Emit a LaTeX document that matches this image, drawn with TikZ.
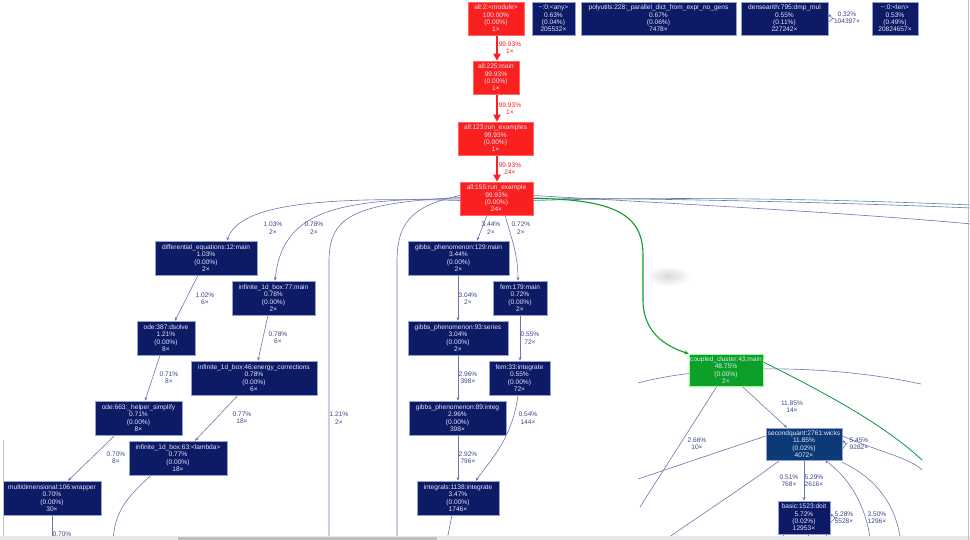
\documentclass[tikz,border=0pt]{standalone}
\usepackage{fontspec}
\setmainfont{Liberation Sans}
\usetikzlibrary{arrows.meta,fadings}
\definecolor{navyfill}{RGB}{13,27,102}
\definecolor{bluefill}{RGB}{12,58,118}
\definecolor{redfill}{RGB}{250,32,32}
\definecolor{greenfill}{RGB}{12,160,40}
\definecolor{boxline}{RGB}{150,160,210}
\definecolor{boxtext}{RGB}{228,230,248}
\definecolor{edgecol}{RGB}{110,118,175}
\definecolor{tealcol}{RGB}{80,140,165}
\definecolor{labcol}{RGB}{60,70,140}
\definecolor{scrolltrack}{RGB}{232,232,232}
\definecolor{scrollthumb}{RGB}{190,190,190}
\pgfdeclarelayer{bg}
\pgfdeclarelayer{paper}
\pgfsetlayers{paper,bg,main}
\tikzfading[name=softblob, inner color=transparent!0, outer color=transparent!100]
\tikzset{
  box/.style={rectangle, draw=boxline, line width=0.5pt, text=boxtext, align=center,
    inner sep=0pt, font=\fontsize{6.6}{7.4}\selectfont},
  navybox/.style={box, fill=navyfill},
  bluebox/.style={box, fill=bluefill},
  redbox/.style={box, fill=redfill, draw=red!60!white},
  greenbox/.style={box, fill=greenfill, draw=green!40!white},
  elab/.style={text=labcol, align=center, inner sep=0pt, font=\fontsize{6.6}{7.4}\selectfont},
  rlab/.style={elab, text=redfill},
  edge/.style={draw=edgecol, line width=0.6pt, -{Stealth[length=3.5pt,width=3pt]}},
  plain/.style={draw=edgecol, line width=0.6pt},
  tealline/.style={draw=tealcol, line width=0.6pt},
  redge/.style={draw=redfill, line width=2.6pt, -{Triangle[length=7pt,width=7pt]}},
  gedge/.style={draw=greenfill, line width=1.1pt, -{Stealth[length=4.5pt,width=4pt]}},
}
\begin{document}
\begin{tikzpicture}[x=1pt,y=-1pt]
\useasboundingbox (0,0) rectangle (970,540);
\begin{pgfonlayer}{paper}
\fill[white] (0,0) rectangle (970,540);
\end{pgfonlayer}
\clip (0,0) rectangle (970,540);

% ---------- top row ----------
\node[redbox, minimum width=56, minimum height=33] (all2) at (496,18.5) {all:2:<module>\\100.00\%\\(0.00\%)\\1×};
\node[navybox, minimum width=43, minimum height=33] (any) at (553.5,18.5) {\textasciitilde:0:<any>\\0.63\%\\(0.04\%)\\205532×};
\node[navybox, minimum width=155, minimum height=33] (poly) at (658.5,18.5) {polyutils:228:\_parallel\_dict\_from\_expr\_no\_gens\\0.67\%\\(0.06\%)\\7478×};
\node[navybox, minimum width=87, minimum height=33] (dense) at (784.5,18.5) {densearith:795:dmp\_mul\\0.55\%\\(0.11\%)\\227242×};
\node[navybox, minimum width=46, minimum height=33] (len) at (895,18.5) {\textasciitilde:0:<len>\\0.53\%\\(0.49\%)\\20824657×};

% ---------- red chain ----------
\node[redbox, minimum width=46, minimum height=33] (all225) at (496,77.5) {all:225:main\\99.93\%\\(0.00\%)\\1×};
\node[redbox, minimum width=75, minimum height=33] (all123) at (495.5,138.5) {all:123:run\_examples\\99.93\%\\(0.00\%)\\1×};
\node[redbox, minimum width=73, minimum height=33] (all155) at (496.5,198.5) {all:155:run\_example\\99.93\%\\(0.00\%)\\24×};

% ---------- left branch ----------
\node[navybox, minimum width=102, minimum height=34] (diffeq) at (206,258) {differential\_equations:12:main\\1.03\%\\(0.00\%)\\2×};
\node[navybox, minimum width=83, minimum height=34] (inf77) at (273.5,298) {infinite\_1d\_box:77:main\\0.78\%\\(0.00\%)\\2×};
\node[navybox, minimum width=58, minimum height=34] (ode387) at (166,338) {ode:387:dsolve\\1.21\%\\(0.00\%)\\8×};
\node[navybox, minimum width=126, minimum height=34] (energy) at (254,378) {infinite\_1d\_box:46:energy\_corrections\\0.78\%\\(0.00\%)\\6×};
\node[navybox, minimum width=87, minimum height=34] (ode663) at (138.5,418) {ode:663:\_helper\_simplify\\0.71\%\\(0.00\%)\\8×};
\node[navybox, minimum width=98, minimum height=34] (lambda) at (178,458) {infinite\_1d\_box:63:<lambda>\\0.77\%\\(0.00\%)\\18×};
\node[navybox, minimum width=98, minimum height=34] (multi) at (52,498) {multidimensional:106:wrapper\\0.70\%\\(0.00\%)\\30×};

% ---------- middle branch ----------
\node[navybox, minimum width=101, minimum height=34] (gibbs129) at (458.5,258) {gibbs\_phenomenon:129:main\\3.44\%\\(0.00\%)\\2×};
\node[navybox, minimum width=54, minimum height=34] (fem179) at (520,298) {fem:179:main\\0.72\%\\(0.00\%)\\2×};
\node[navybox, minimum width=100, minimum height=34] (gibbs93) at (458,338) {gibbs\_phenomenon:93:series\\3.04\%\\(0.00\%)\\2×};
\node[navybox, minimum width=61, minimum height=34] (fem33) at (519.5,378) {fem:33:integrate\\0.55\%\\(0.00\%)\\72×};
\node[navybox, minimum width=97, minimum height=34] (gibbs89) at (457.5,418) {gibbs\_phenomenon:89:integ\\2.96\%\\(0.00\%)\\398×};
\node[navybox, minimum width=82, minimum height=34] (integ) at (458,498) {integrals:1138:integrate\\3.47\%\\(0.00\%)\\1746×};

% ---------- right branch ----------
\node[greenbox, minimum width=74, minimum height=32] (coupled) at (726,370) {coupled\_cluster:43:main\\48.75\%\\(0.00\%)\\2×};
\node[bluebox, minimum width=76, minimum height=32] (wicks) at (804,444) {secondquant:2761:wicks\\11.85\%\\(0.02\%)\\4072×};
\node[navybox, minimum width=52, minimum height=33] (doit) at (804,517.5) {basic:1523:doit\\5.72\%\\(0.02\%)\\12953×};

% free ends
\coordinate (offA) at (329,545);
\coordinate (offB) at (397,545);
\coordinate (offC) at (113,545);
\coordinate (offD) at (52,545);
\coordinate (offE) at (446,545);
\coordinate (offR1) at (972,205);
\coordinate (offR2) at (972,208);
\coordinate (offR3) at (972,224);
\coordinate (offG) at (922,460);
\coordinate (offH) at (640,507);
\coordinate (offI) at (638,479);
\coordinate (offJ) at (658,545);
\coordinate (offK) at (922,470);
\coordinate (offL) at (871,545);
\coordinate (offM) at (901,545);
\coordinate (offN) at (778,545);
\coordinate (offO) at (808,545);
\coordinate (offP) at (832,545);
\coordinate (arcL) at (638,383);
\coordinate (arcR) at (921,384);

\begin{pgfonlayer}{bg}
% faint tooltip shadow
\fill[gray!30, path fading=softblob] (646,266) rectangle (690,286);
% red chain
\draw[redge] ([xshift=1]all2.south) -- ([xshift=1]all225.north);
\draw[redge] ([xshift=1]all225.south) -- ([xshift=1.5]all123.north);
\draw[redge] ([xshift=1.5]all123.south) -- ([xshift=0.5]all155.north);
% left from run_example
\draw[edge] ([yshift=-2]all155.west) .. controls (300,196) and (238,208) .. ([xshift=21]diffeq.north);
\draw[edge] ([yshift=-0.5]all155.west) .. controls (330,198) and (282,214) .. ([xshift=1.5]inf77.north);
\draw[plain] ([yshift=1]all155.west) .. controls (350,203) and (329,218) .. (329,262) -- (offA);
\draw[plain] ([yshift=3]all155.west) .. controls (412,206) and (397,222) .. (397,262) -- (offB);
% left chain
\draw[edge] ([xshift=-8]diffeq.south) -- ([xshift=9]ode387.north);
\draw[edge] ([xshift=-5.5]inf77.south) -- ([xshift=4]energy.north);
\draw[edge] ([xshift=-6]ode387.south) -- ([xshift=6.5]ode663.north);
\draw[edge] ([xshift=-16]energy.south) -- ([xshift=17]lambda.north);
\draw[edge] ([xshift=-23.5]ode663.south) -- ([xshift=16]multi.north);
\draw[plain] ([xshift=-27]lambda.south) .. controls (130,495) and (113,510) .. (offC);
\draw[plain] (multi.south) -- (offD);
% middle
\draw[edge] ([xshift=-9.5]all155.south) -- ([xshift=18.5]gibbs129.north);
\draw[edge] ([xshift=8.5]all155.south) .. controls (512,240) and (518,255) .. ([xshift=-2]fem179.north);
\draw[edge] (gibbs129.south -| gibbs93.north) -- (gibbs93.north);
\draw[edge] (fem179.south) -- (fem179.south |- fem33.north);
\draw[edge] (gibbs93.south) -- (gibbs93.south |- gibbs89.north);
\draw[edge] (gibbs89.south -| integ.north) -- (integ.north);
\draw[edge] ([xshift=-1.5]fem33.south) .. controls (512,440) and (490,460) .. ([xshift=18]integ.north);
\draw[plain] ([xshift=-6]integ.south) -- (offE);
% right from run_example
\draw[tealline] ([yshift=-2]all155.east) .. controls (700,196) and (850,200) .. (offR1);
\draw[plain] ([yshift=0.5]all155.east) .. controls (700,199) and (850,203) .. (offR2);
\draw[plain] ([yshift=3]all155.east) .. controls (700,205) and (850,213) .. (offR3);
\draw[gedge] (all155.east) .. controls (615,199) and (643,215) .. (643,255) -- (643,300) .. controls (643,332) and (665,346) .. (coupled.north west);
% around coupled cluster
\draw[plain] (arcL) .. controls (700,366) and (820,362) .. (arcR);
\draw[greenfill!70!teal, line width=0.8pt] ([yshift=8]coupled.east) .. controls (840,400) and (890,430) .. (offG);
\draw[plain] ([xshift=-9]coupled.south) -- (offH);
\draw[edge] ([xshift=16]coupled.south) -- ([xshift=-17]wicks.north);
\draw[plain] (offI) -- ([yshift=8]wicks.west);
\draw[plain] ([xshift=-24]wicks.south) .. controls (740,490) and (700,515) .. (offJ);
\draw[edge] ([yshift=-6]wicks.east) .. controls (849,437) and (849,448) .. ([yshift=4]wicks.east);
\draw[plain] ([yshift=8]wicks.east) .. controls (880,452) and (910,458) .. (offK);
\draw[edge] (wicks.south) -- (doit.north);
\draw[edge] (offL) .. controls (866,500) and (845,475) .. ([xshift=21]wicks.south);
\draw[plain] ([yshift=-2]wicks.south east) .. controls (880,480) and (898,510) .. (offM);
\draw[edge] ([yshift=-6]doit.east) .. controls (838,512) and (838,522) .. ([yshift=4]doit.east);
\draw[plain] ([xshift=-20]doit.south) -- (offN);
\draw[plain] ([xshift=4]doit.south) -- (offO);
\draw[plain] ([xshift=22]doit.south) -- (offP);
% densearith self loop
\draw[edge] ([yshift=-4]dense.east) .. controls (836,14) and (836,23) .. ([yshift=4.5]dense.east);
\end{pgfonlayer}

% ---------- edge labels ----------
\node[rlab] (l1) at (510,47.5) {99.93\%\\1×};
\node[rlab] (l2) at (510,108.5) {99.93\%\\1×};
\node[rlab] (l3) at (510,168.5) {99.93\%\\24×};
\node[elab] (l4) at (273,228) {1.03\%\\2×};
\node[elab] (l5) at (314,228) {0.78\%\\2×};
\node[elab] (l6) at (205,298.5) {1.02\%\\6×};
\node[elab] (l7) at (278,338) {0.78\%\\6×};
\node[elab] (l8) at (169,378) {0.71\%\\8×};
\node[elab] (l9) at (242,418) {0.77\%\\18×};
\node[elab] (l10) at (116,457.5) {0.70\%\\8×};
\node[elab] (l11) at (339,418) {1.21\%\\2×};
\node[elab] (l12) at (62,534) {0.70\%};
\node[elab] (l13) at (491,228) {3.44\%\\2×};
\node[elab] (l14) at (521,228) {0.72\%\\2×};
\node[elab] (l15) at (468,298.5) {3.04\%\\2×};
\node[elab] (l16) at (530,338) {0.55\%\\72×};
\node[elab] (l17) at (468,378) {2.96\%\\398×};
\node[elab] (l18) at (468,457.5) {2.92\%\\796×};
\node[elab] (l19) at (528,418) {0.54\%\\144×};
\node[elab] (l20) at (697,443.5) {2.66\%\\10×};
\node[elab] (l21) at (792,406.5) {11.85\%\\14×};
\node[elab] (l22) at (859,443.5) {5.45\%\\9282×};
\node[elab] (l23) at (789,480.5) {0.51\%\\768×};
\node[elab] (l24) at (814,480.5) {5.29\%\\2616×};
\node[elab] (l25) at (844,517.5) {5.28\%\\5528×};
\node[elab] (l26) at (877,517.5) {3.50\%\\1296×};
\node[elab] (l27) at (847,18) {0.32\%\\104397×};

% ---------- browser frame ----------
\fill[scrolltrack] (0,536) rectangle (970,540);
\fill[scrollthumb] (178,536.5) rectangle (437,540);
\draw[gray!50, line width=0.6pt] (3,440) -- (3,536);
\draw[gray!50, line width=0.8pt] (968,0) -- (968,540);
\end{tikzpicture}
\end{document}
